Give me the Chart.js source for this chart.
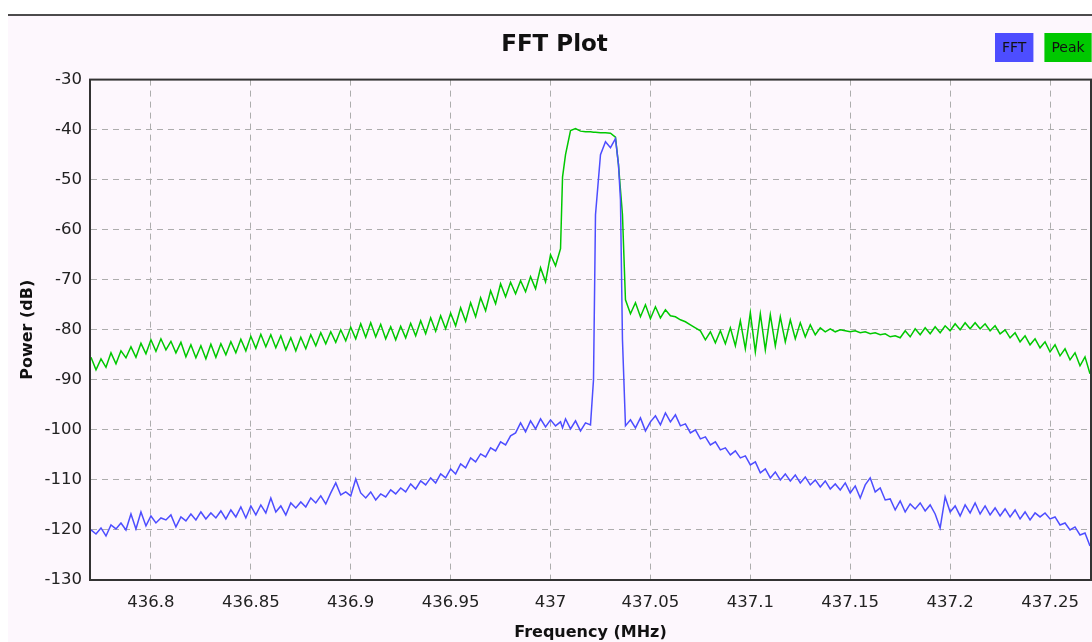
<!DOCTYPE html>
<html>
<head>
<meta charset="utf-8">
<title>FFT Plot</title>
<script src="https://cdn.jsdelivr.net/npm/chart.js@4/dist/chart.umd.min.js"></script>
<style>
  html, body { margin: 0; padding: 0; background: #ffffff; }
  canvas { display: block; }
</style>
</head>
<body>
<canvas id="fft" width="1092" height="642"></canvas>
<script>
// frequency bins (MHz), a few extra bins around the channel edges
const freqMHz = [
  436.77, 436.7725, 436.775, 436.7775, 436.78, 436.7825, 436.785, 436.7875, 436.79, 436.7925,
  436.795, 436.7975, 436.8, 436.8025, 436.805, 436.8075, 436.81, 436.8125, 436.815, 436.8175,
  436.82, 436.8225, 436.825, 436.8275, 436.83, 436.8325, 436.835, 436.8375, 436.84, 436.8425,
  436.845, 436.8475, 436.85, 436.8525, 436.855, 436.8575, 436.86, 436.8625, 436.865, 436.8675,
  436.87, 436.8725, 436.875, 436.8775, 436.88, 436.8825, 436.885, 436.8875, 436.89, 436.8925,
  436.895, 436.8975, 436.9, 436.9025, 436.905, 436.9075, 436.91, 436.9125, 436.915, 436.9175,
  436.92, 436.9225, 436.925, 436.9275, 436.93, 436.9325, 436.935, 436.9375, 436.94, 436.9425,
  436.945, 436.9475, 436.95, 436.9525, 436.955, 436.9575, 436.96, 436.9625, 436.965, 436.9675,
  436.97, 436.9725, 436.975, 436.9775, 436.98, 436.9825, 436.985, 436.9875, 436.99, 436.9925,
  436.995, 436.9975, 437, 437.0025, 437.005, 437.006, 437.0075, 437.01, 437.0125, 437.015, 437.0175,
  437.02, 437.0215, 437.0225, 437.025, 437.0275, 437.03, 437.0325, 437.034, 437.035, 437.036, 437.0375, 437.04, 437.0425,
  437.045, 437.0475, 437.05, 437.0525, 437.055, 437.0575, 437.06, 437.0625, 437.065, 437.0675,
  437.07, 437.0725, 437.075, 437.0775, 437.08, 437.0825, 437.085, 437.0875, 437.09, 437.0925,
  437.095, 437.0975, 437.1, 437.1025, 437.105, 437.1075, 437.11, 437.1125, 437.115, 437.1175,
  437.12, 437.1225, 437.125, 437.1275, 437.13, 437.1325, 437.135, 437.1375, 437.14, 437.1425,
  437.145, 437.1475, 437.15, 437.1525, 437.155, 437.1575, 437.16, 437.1625, 437.165, 437.1675,
  437.17, 437.1725, 437.175, 437.1775, 437.18, 437.1825, 437.185, 437.1875, 437.19, 437.1925,
  437.195, 437.1975, 437.2, 437.2025, 437.205, 437.2075, 437.21, 437.2125, 437.215, 437.2175,
  437.22, 437.2225, 437.225, 437.2275, 437.23, 437.2325, 437.235, 437.2375, 437.24, 437.2425,
  437.245, 437.2475, 437.25, 437.2525, 437.255, 437.2575, 437.26, 437.2625, 437.265, 437.2675,
  437.27,
];

// live FFT trace (dB)
const fftDb = [
  -120.0, -120.8, -119.6, -121.2, -119.0, -119.8, -118.6, -120.0, -116.8, -119.8,
  -116.4, -119.2, -117.2, -118.6, -117.6, -118.0, -117.0, -119.4, -117.4, -118.2,
  -116.8, -118.0, -116.4, -117.8, -116.6, -117.6, -116.2, -117.8, -116.0, -117.4,
  -115.4, -117.6, -115.2, -117.0, -115.0, -116.6, -113.6, -116.4, -115.2, -117.0,
  -114.6, -115.6, -114.4, -115.4, -113.6, -114.6, -113.2, -114.8, -112.6, -110.6,
  -113.0, -112.4, -113.2, -109.8, -112.6, -113.6, -112.4, -114.0, -112.8, -113.4,
  -112.0, -112.8, -111.6, -112.4, -110.8, -111.8, -110.2, -111.0, -109.6, -110.6,
  -108.8, -109.6, -107.8, -108.8, -106.8, -107.6, -105.6, -106.4, -104.8, -105.4,
  -103.6, -104.2, -102.4, -103.0, -101.2, -100.6, -98.6, -100.4, -98.2, -99.8,
  -97.8, -99.4, -98.0, -99.2, -98.4, -99.6, -97.8, -99.8, -98.2, -100.2, -98.6,
  -99.0, -90.0, -57.0, -45.0, -42.4, -43.6, -41.8, -47.0, -54.0, -82.0, -99.2, -98.0, -99.6,
  -97.6, -100.2, -98.4, -97.2, -99.0, -96.6, -98.4, -97.0, -99.2, -98.8,
  -100.6, -100.0, -101.8, -101.4, -103.0, -102.4, -104.0, -103.6, -105.0, -104.2,
  -105.6, -105.2, -107.0, -106.4, -108.6, -107.8, -109.6, -108.4, -110.0, -108.8,
  -110.2, -109.0, -110.6, -109.4, -111.0, -110.0, -111.4, -110.2, -111.8, -110.8,
  -112.0, -110.6, -112.6, -111.2, -113.6, -111.0, -109.6, -112.4, -111.6, -114.0,
  -113.8, -116.0, -114.2, -116.4, -114.8, -115.8, -114.6, -116.2, -115.0, -116.8,
  -119.6, -113.4, -116.4, -115.2, -117.2, -115.0, -116.6, -114.6, -116.8, -115.2,
  -117.0, -115.6, -117.2, -115.8, -117.4, -116.0, -117.8, -116.4, -118.0, -116.6,
  -117.4, -116.6, -117.8, -117.4, -119.0, -118.6, -120.0, -119.4, -121.0, -120.6,
  -123.2,
];

// peak hold trace (dB)
const peakDb = [
  -85.5, -88.0, -85.8, -87.5, -84.6, -86.8, -84.2, -85.6, -83.4, -85.5,
  -82.7, -84.8, -82.0, -84.3, -81.8, -84.0, -82.3, -84.6, -82.5, -85.4,
  -83.0, -85.6, -83.2, -85.8, -82.9, -85.5, -82.8, -85.0, -82.4, -84.6,
  -81.9, -84.2, -81.3, -83.7, -80.9, -83.4, -81.0, -83.6, -81.2, -84.0,
  -81.6, -84.2, -81.5, -83.8, -81.0, -83.2, -80.6, -82.8, -80.4, -82.5,
  -80.0, -82.2, -79.5, -81.8, -78.8, -81.5, -78.6, -81.4, -78.9, -81.8,
  -79.4, -82.0, -79.3, -81.6, -78.7, -81.2, -78.2, -80.8, -77.6, -80.3,
  -77.2, -79.8, -76.7, -79.2, -75.6, -78.3, -74.6, -77.4, -73.6, -76.2,
  -72.2, -74.8, -70.8, -73.4, -70.5, -72.8, -70.2, -72.4, -69.4, -71.8,
  -67.6, -70.4, -65.0, -67.2, -63.8, -49.5, -45.0, -40.2, -39.8, -40.3, -40.4,
  -40.4, -40.5, -40.5, -40.6, -40.6, -40.7, -41.5, -47.0, -52.0, -57.0, -74.0, -76.8, -74.6,
  -77.4, -75.0, -77.8, -75.4, -77.6, -76.0, -77.2, -77.4, -78.0, -78.4,
  -79.0, -79.6, -80.2, -82.0, -80.4, -82.6, -80.2, -82.8, -79.6, -83.2,
  -78.2, -83.8, -76.6, -84.4, -76.8, -84.0, -77.0, -83.2, -77.4, -82.4,
  -78.0, -81.8, -78.6, -81.4, -79.0, -81.0, -79.6, -80.4, -79.8, -80.4,
  -80.0, -80.2, -80.4, -80.2, -80.6, -80.4, -80.8, -80.6, -81.0, -80.8,
  -81.4, -81.2, -81.6, -80.2, -81.4, -79.8, -81.0, -79.6, -80.8, -79.4,
  -80.6, -79.2, -80.2, -78.8, -80.0, -78.6, -79.8, -78.6, -79.8, -78.8,
  -80.2, -79.2, -80.8, -80.0, -81.6, -80.6, -82.4, -81.2, -83.0, -81.8,
  -83.6, -82.4, -84.4, -83.0, -85.2, -83.8, -86.0, -84.6, -87.2, -85.4,
  -88.8,
];

const FONT = "'DejaVu Sans', 'Liberation Sans', sans-serif";
const GRID = "#adadad";

// page background, top rule, plot frame and the boxed legend
const decor = {
  id: "decor",
  beforeDraw(chart) {
    const c = chart.ctx;
    c.save();
    c.fillStyle = "#ffffff";
    c.fillRect(0, 0, chart.width, chart.height);
    c.fillStyle = "#fdf7fd";
    c.fillRect(8, 15, chart.width - 8, chart.height - 15);
    c.strokeStyle = "#111111";
    c.lineWidth = 1.5;
    c.beginPath();
    c.moveTo(8, 15);
    c.lineTo(chart.width, 15);
    c.stroke();
    c.restore();
  },
  afterDraw(chart) {
    const c = chart.ctx;
    const a = chart.chartArea;
    c.save();
    c.strokeStyle = "#333333";
    c.lineWidth = 2;
    c.strokeRect(a.left, a.top, a.right - a.left, a.bottom - a.top);

    c.font = "14px " + FONT;
    c.textBaseline = "middle";
    let x = 995;
    chart.data.datasets.forEach((ds) => {
      const w = c.measureText(ds.label).width + 14;
      c.fillStyle = ds.borderColor;
      c.fillRect(x, 33, w, 29);
      c.fillStyle = "#111111";
      c.fillText(ds.label, x + 7, 48);
      x += w + 11;
    });
    c.restore();
  },
};

let ctx = document.getElementById("fft").getContext("2d");
let fft = new Chart(ctx, {
  type: "line",
  data: {
    datasets: [
      {
        label: "FFT",
        data: freqMHz.map((f, i) => ({ x: f, y: fftDb[i] })),
        borderColor: "#4d4dff",
        backgroundColor: "#4d4dff",
        borderWidth: 1.5,
        pointRadius: 0,
        tension: 0,
      },
      {
        label: "Peak",
        data: freqMHz.map((f, i) => ({ x: f, y: peakDb[i] })),
        borderColor: "#00c800",
        backgroundColor: "#00c800",
        borderWidth: 1.5,
        pointRadius: 0,
        tension: 0,
      },
    ],
  },
  options: {
    responsive: false,
    animation: false,
    devicePixelRatio: 1,
    layout: { padding: { top: 31, left: 18, right: 1, bottom: 0 } },
    plugins: {
      legend: { display: false },
      tooltip: { enabled: false },
      title: {
        display: true,
        text: "FFT Plot",
        color: "#111111",
        font: { family: FONT, size: 23, weight: "bold" },
        padding: { top: 0, bottom: 21 },
      },
    },
    scales: {
      x: {
        type: "linear",
        min: 436.7695,
        max: 437.2705,
        ticks: {
          stepSize: 0.05,
          includeBounds: false,
          autoSkip: false,
          maxRotation: 0,
          padding: 13,
          color: "#222222",
          font: { family: FONT, size: 16.5 },
          callback: (v) => String(Number(v.toFixed(2))),
        },
        grid: { color: GRID, lineWidth: 1, drawTicks: false },
        border: { display: true, color: "#333333", width: 2, dash: [6, 5] },
        title: {
          display: true,
          text: "Frequency (MHz)",
          color: "#111111",
          font: { family: FONT, size: 16, weight: "bold" },
          padding: 0,
        },
        afterFit: (s) => { s.height = 62; },
      },
      y: {
        type: "linear",
        min: -130,
        max: -30,
        ticks: {
          stepSize: 10,
          padding: 8,
          color: "#222222",
          font: { family: FONT, size: 16.5 },
        },
        grid: { color: GRID, lineWidth: 1, drawTicks: false },
        border: { display: true, color: "#333333", width: 2, dash: [6, 5] },
        title: {
          display: true,
          text: "Power (dB)",
          color: "#111111",
          font: { family: FONT, size: 16, weight: "bold" },
          padding: 0,
        },
        afterFit: (s) => { s.width = 72; },
      },
    },
  },
  plugins: [decor],
});
</script>
</body>
</html>
